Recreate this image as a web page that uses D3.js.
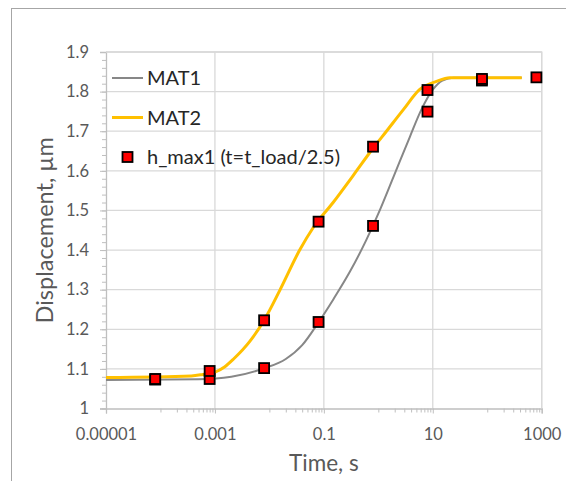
<!DOCTYPE html>
<html>
<head>
<meta charset="utf-8">
<script src="https://cdn.jsdelivr.net/npm/d3@7"></script>
<style>
  html, body { margin: 0; padding: 0; background: #ffffff; }
  svg { display: block; }
  text { font-family: Lato, "Open Sans", sans-serif; }
</style>
</head>
<body>
<svg id="chart" width="566" height="481"></svg>
<script>
// ---- data ----
const mat1Time = [1e-5, 5e-4, 2e-3, 8e-3, 0.02, 0.04, 0.08, 0.15, 0.3, 0.6, 1.0, 1.9, 3.8, 6.2, 10, 15, 24, 430];
const mat1Disp = [1.072, 1.0737, 1.080, 1.1015, 1.125, 1.16, 1.2177, 1.276, 1.345, 1.425, 1.492, 1.585, 1.686, 1.755, 1.805, 1.828, 1.835, 1.835];

const mat2Time = [1e-5, 3.7e-4, 6e-4, 1e-3, 1.5e-3, 2.2e-3, 4.4e-3, 8e-3, 0.0156, 0.036, 0.064, 0.148, 0.345, 0.8, 1.41, 2.86, 5.77, 11.7, 20.5, 430];
const mat2Disp = [1.078, 1.082, 1.086, 1.092, 1.105, 1.125, 1.17, 1.223, 1.299, 1.40, 1.457, 1.52, 1.588, 1.657, 1.70, 1.754, 1.8055, 1.826, 1.835, 1.835];

const hmaxTime = [8e-5, 8e-5, 8e-4, 8e-4, 8e-3, 8e-3, 0.08, 0.08, 0.8, 0.8, 8, 8, 80, 80, 800];
const hmaxDisp = [1.073, 1.0745, 1.0745, 1.0947, 1.102, 1.2227, 1.2184, 1.4717, 1.461, 1.661, 1.7495, 1.804, 1.828, 1.832, 1.836];

const xMajorTicks = [1e-5, 1e-3, 0.1, 10, 1000];
const xTickLabels = ["0.00001", "0.001", "0.1", "10", "1000"];
const yTicks = [1, 1.1, 1.2, 1.3, 1.4, 1.5, 1.6, 1.7, 1.8, 1.9];
const yTickLabels = ["1", "1.1", "1.2", "1.3", "1.4", "1.5", "1.6", "1.7", "1.8", "1.9"];
const seriesNames = ["MAT1", "MAT2", "h_max1 (t=t_load/2.5)"];
const xTitle = "Time, s";
const yTitle = "Displacement, µm";

// ---- layout ----
const svg = d3.select("#chart");
const plot = { left: 106, right: 541.7, top: 52, bottom: 408.5 };
const x = d3.scaleLog().domain([1e-5, 1e3]).range([plot.left, plot.right]);
const y = d3.scaleLinear().domain([1, 1.9]).range([plot.bottom, plot.top]);

const gridColor = "#d9d9d9", axisColor = "#bfbfbf", labelColor = "#595959";
const fontFam = "Lato, 'Open Sans', sans-serif";

// outer chart frame
svg.append("rect").attr("x", 11.5).attr("y", 8.5).attr("width", 700).attr("height", 700)
  .attr("fill", "none").attr("stroke", "#a6a6a6").attr("stroke-width", 1);

// gridlines
svg.append("g").selectAll("line").data(yTicks.slice(1)).join("line")
  .attr("x1", plot.left).attr("x2", plot.right)
  .attr("y1", d => y(d)).attr("y2", d => y(d))
  .attr("stroke", gridColor).attr("stroke-width", 1.3);
svg.append("g").selectAll("line").data(xMajorTicks.slice(1)).join("line")
  .attr("x1", d => x(d)).attr("x2", d => x(d))
  .attr("y1", plot.top).attr("y2", plot.bottom)
  .attr("stroke", gridColor).attr("stroke-width", 1.3);

// minor ticks (x): m*10^(k+1) within each major interval
const xMinor = [];
for (let i = 0; i < xMajorTicks.length - 1; i++) {
  const base = xMajorTicks[i] * 10;
  for (let m = 1; m <= 9; m++) xMinor.push(base * m);
}
const yMinor = d3.range(1, 1.9001, 0.02);

const xMinorAxis = d3.axisBottom(x).tickValues(xMinor).tickSize(4).tickFormat("");
const gxm = svg.append("g").attr("transform", `translate(0,${plot.bottom})`).call(xMinorAxis);
gxm.select(".domain").remove();
gxm.selectAll("line").attr("stroke", axisColor);

const yMinorAxis = d3.axisLeft(y).tickValues(yMinor).tickSize(4).tickFormat("");
const gym = svg.append("g").attr("transform", `translate(${plot.left},0)`).call(yMinorAxis);
gym.select(".domain").remove();
gym.selectAll("line").attr("stroke", axisColor);

// major axes
const xAxis = d3.axisBottom(x).tickValues(xMajorTicks).tickSize(5).tickPadding(15)
  .tickFormat((d, i) => xTickLabels[i]);
const gx = svg.append("g").attr("transform", `translate(0,${plot.bottom})`).call(xAxis);
gx.select(".domain").attr("stroke", axisColor).attr("stroke-width", 1.3);
gx.selectAll("line").attr("stroke", axisColor);
gx.selectAll("text").attr("fill", labelColor).attr("font-size", 16.5).attr("font-family", fontFam);

const yAxis = d3.axisLeft(y).tickValues(yTicks).tickSize(6).tickPadding(11)
  .tickFormat((d, i) => yTickLabels[i]);
const gy = svg.append("g").attr("transform", `translate(${plot.left},0)`).call(yAxis);
gy.select(".domain").attr("stroke", axisColor).attr("stroke-width", 1.3);
gy.selectAll("line").attr("stroke", axisColor);
gy.selectAll("text").attr("fill", labelColor).attr("font-size", 16.5).attr("font-family", fontFam);

// plot area border (top, right)
svg.append("path")
  .attr("d", `M${plot.left},${plot.top}H${plot.right}V${plot.bottom}`)
  .attr("fill", "none").attr("stroke", gridColor).attr("stroke-width", 1.3);

// axis titles
svg.append("text").attr("x", (plot.left + plot.right) / 2).attr("y", 471)
  .attr("text-anchor", "middle").attr("font-size", 22.5).attr("fill", labelColor).text(xTitle);
svg.append("text").attr("transform", `translate(53,${(plot.top + plot.bottom) / 2}) rotate(-90)`)
  .attr("text-anchor", "middle").attr("font-size", 23.5).attr("fill", labelColor).text(yTitle);

// lines
const line = d3.line().x(d => x(d[0])).y(d => y(d[1])).curve(d3.curveMonotoneX);
const mat1 = mat1Time.map((t, i) => [t, mat1Disp[i]]);
const mat2 = mat2Time.map((t, i) => [t, mat2Disp[i]]);
svg.append("path").datum(mat1).attr("d", line)
  .attr("fill", "none").attr("stroke", "#878787").attr("stroke-width", 2);
svg.append("path").datum(mat2).attr("d", line)
  .attr("fill", "none").attr("stroke", "#ffc000").attr("stroke-width", 3);

// markers
const ms = 10;
svg.append("g").selectAll("rect").data(hmaxTime.map((t, i) => [t, hmaxDisp[i]])).join("rect")
  .attr("x", d => x(d[0]) - ms / 2).attr("y", d => y(d[1]) - ms / 2)
  .attr("width", ms).attr("height", ms)
  .attr("fill", "#ff0000").attr("stroke", "#000000").attr("stroke-width", 1.8);

// legend
const lg = svg.append("g");
const legendY = [78, 117.5, 157];
lg.append("line").attr("x1", 112).attr("x2", 143).attr("y1", legendY[0]).attr("y2", legendY[0])
  .attr("stroke", "#878787").attr("stroke-width", 2);
lg.append("line").attr("x1", 112).attr("x2", 143).attr("y1", legendY[1]).attr("y2", legendY[1])
  .attr("stroke", "#ffc000").attr("stroke-width", 3);
lg.append("rect").attr("x", 127.5 - ms / 2).attr("y", legendY[2] - ms / 2).attr("width", ms).attr("height", ms)
  .attr("fill", "#ff0000").attr("stroke", "#000").attr("stroke-width", 1.8);
lg.selectAll("text").data(seriesNames).join("text")
  .attr("x", 147).attr("y", (d, i) => legendY[i] + 7)
  .attr("font-size", 20).attr("fill", "#262626").text(d => d);
</script>
</body>
</html>
